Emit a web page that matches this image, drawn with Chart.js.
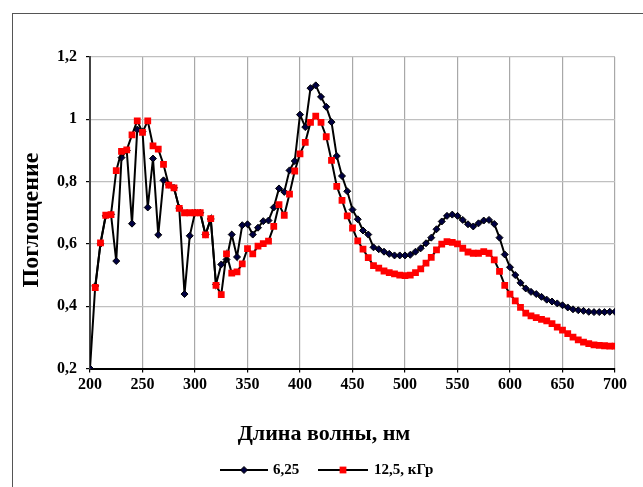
<!DOCTYPE html>
<html>
<head>
<meta charset="utf-8">
<script src="https://cdn.jsdelivr.net/npm/chart.js@4.4.1/dist/chart.umd.min.js"></script>
<style>
  html, body { margin: 0; padding: 0; background: #fff; overflow: hidden; }
  #wrap { position: relative; width: 643px; height: 487px; }
  #frame { position: absolute; left: 12px; top: 13px; width: 640px; height: 490px; border: 1px solid #555; }
  #chart { position: absolute; left: 0; top: 0; }
</style>
</head>
<body>
<div id="wrap">
  <div id="frame"></div>
  <canvas id="chart" width="643" height="487"></canvas>
</div>
<script>
// wavelength grid, nm (every 5 nm from 200 to 700)
var wavelengths = [];
for (var w = 200; w <= 700; w += 5) wavelengths.push(w);

// absorbance, 6,25 kGy
var dose625 = [
  0.2, 0.465, 0.60, 0.69, 0.695, 0.545, 0.877, 0.90, 0.665, 0.967,
  0.96, 0.717, 0.874, 0.629, 0.804, 0.79, 0.78, 0.715, 0.439, 0.626,
  0.70, 0.70, 0.63, 0.68, 0.47, 0.534, 0.55, 0.63, 0.558, 0.66,
  0.663, 0.63, 0.652, 0.673, 0.675, 0.717, 0.778, 0.767, 0.836, 0.866,
  1.015, 0.975, 1.10, 1.109, 1.072, 1.04, 0.991, 0.882, 0.818, 0.769,
  0.71, 0.679, 0.643, 0.63, 0.589, 0.583, 0.575, 0.568, 0.563, 0.563,
  0.563, 0.565, 0.575, 0.586, 0.602, 0.62, 0.647, 0.672, 0.69, 0.694,
  0.69, 0.677, 0.663, 0.656, 0.666, 0.675, 0.677, 0.664, 0.62, 0.566,
  0.525, 0.5, 0.475, 0.457, 0.446, 0.439, 0.43, 0.421, 0.415, 0.409,
  0.403, 0.396, 0.39, 0.387, 0.385, 0.382, 0.381, 0.381, 0.381, 0.382,
  0.382
];

// absorbance, 12,5 kGy
var dose125 = [
  null, 0.46, 0.603, 0.692, 0.694, 0.835, 0.897, 0.902, 0.95, 0.995,
  0.958, 0.995, 0.915, 0.904, 0.855, 0.789, 0.78, 0.714, 0.70, 0.70,
  0.70, 0.70, 0.629, 0.681, 0.467, 0.437, 0.568, 0.506, 0.51, 0.536,
  0.585, 0.568, 0.593, 0.601, 0.609, 0.656, 0.726, 0.692, 0.76, 0.834,
  0.889, 0.926, 0.99, 1.01, 0.99, 0.944, 0.868, 0.785, 0.74, 0.69,
  0.651, 0.61, 0.583, 0.556, 0.53, 0.522, 0.513, 0.508, 0.504, 0.5,
  0.498, 0.5, 0.508, 0.52, 0.538, 0.557, 0.581, 0.599, 0.607, 0.605,
  0.6, 0.586, 0.574, 0.57, 0.57, 0.575, 0.57, 0.549, 0.512, 0.467,
  0.439, 0.417, 0.396, 0.378, 0.369, 0.363, 0.358, 0.353, 0.344, 0.333,
  0.323, 0.312, 0.301, 0.292, 0.285, 0.28, 0.276, 0.274, 0.273, 0.272,
  0.272
];

var seriesNames = ['6,25', '12,5, кГр'];
var xTitle = 'Длина волны, нм';
var yTitle = 'Поглощение';

function toPoints(vals) {
  return wavelengths.map(function(x, i) { return { x: x, y: vals[i] }; });
}

var serif = "'Liberation Serif', 'Times New Roman', serif";

// axis titles + Excel-like legend (line with a marker in the middle)
var excelDecor = {
  id: 'excelDecor',
  afterDraw: function(chart) {
    var ctx = chart.ctx;
    ctx.save();
    ctx.fillStyle = '#000';
    ctx.font = 'bold 22px ' + serif;
    ctx.textAlign = 'center';
    ctx.textBaseline = 'middle';
    ctx.fillText(xTitle, 324, 434);
    ctx.save();
    ctx.translate(32, 220);
    ctx.rotate(-Math.PI / 2);
    ctx.font = 'bold 24px ' + serif;
    ctx.fillText(yTitle, 0, 0);
    ctx.restore();

    var y = 470;
    var items = [
      { ds: chart.data.datasets[0], x0: 220, x1: 268, tx: 273 },
      { ds: chart.data.datasets[1], x0: 318, x1: 368, tx: 374 }
    ];
    items.forEach(function(it) {
      ctx.strokeStyle = '#000';
      ctx.lineWidth = 2;
      ctx.beginPath();
      ctx.moveTo(it.x0, y);
      ctx.lineTo(it.x1, y);
      ctx.stroke();
      var cx = (it.x0 + it.x1) / 2;
      var r = it.ds.pointRadius;
      ctx.fillStyle = it.ds.pointBackgroundColor;
      ctx.strokeStyle = it.ds.pointBorderColor;
      ctx.lineWidth = it.ds.pointBorderWidth;
      ctx.beginPath();
      if (it.ds.pointStyle === 'rectRot') {
        ctx.moveTo(cx, y - r); ctx.lineTo(cx + r, y); ctx.lineTo(cx, y + r); ctx.lineTo(cx - r, y);
        ctx.closePath();
      } else {
        var s = r * Math.SQRT1_2;
        ctx.rect(cx - s, y - s, 2 * s, 2 * s);
      }
      ctx.fill();
      if (it.ds.pointBorderWidth) ctx.stroke();
      ctx.fillStyle = '#000';
      ctx.font = 'bold 15px ' + serif;
      ctx.textAlign = 'left';
      ctx.fillText(it.ds.label, it.tx, y);
    });
    ctx.restore();
  }
};

new Chart(document.getElementById('chart'), {
  type: 'line',
  data: {
    datasets: [{
      label: seriesNames[0],
      data: toPoints(dose625),
      borderColor: '#000',
      borderWidth: 2,
      pointStyle: 'rectRot',
      pointRadius: 3.5,
      pointBackgroundColor: '#000040',
      pointBorderColor: '#000',
      pointBorderWidth: 1,
      tension: 0,
      order: 2
    }, {
      label: seriesNames[1],
      data: toPoints(dose125),
      borderColor: '#000',
      borderWidth: 2,
      pointStyle: 'rect',
      pointRadius: 4.8,
      pointBackgroundColor: '#ff0000',
      pointBorderColor: '#ff0000',
      pointBorderWidth: 0,
      tension: 0,
      order: 1
    }]
  },
  options: {
    responsive: false,
    animation: false,
    devicePixelRatio: 1,
    layout: { padding: { left: 0, top: 57, right: 28, bottom: 0 } },
    plugins: { legend: { display: false }, tooltip: { enabled: false } },
    scales: {
      x: {
        type: 'linear',
        min: 200,
        max: 700,
        ticks: { stepSize: 50, color: '#000', padding: 3, font: { family: serif, size: 16, weight: 'bold' } },
        grid: { color: '#a8a8a8', lineWidth: 1.2, tickColor: '#000', tickLength: 4 },
        border: { color: '#000', width: 2 },
        afterFit: function(scale) { scale.height = 118.5; }
      },
      y: {
        min: 0.2,
        max: 1.2,
        ticks: {
          stepSize: 0.2, color: '#000', padding: 9,
          font: { family: serif, size: 16, weight: 'bold' },
          callback: function(v) { return String(Math.round(v * 10) / 10).replace('.', ','); }
        },
        grid: { color: '#c0c0c0', lineWidth: 1.2, tickColor: '#000', tickLength: 4 },
        border: { color: '#444', width: 2 },
        afterFit: function(scale) { scale.width = 90; }
      }
    }
  },
  plugins: [excelDecor]
});
</script>
</body>
</html>
